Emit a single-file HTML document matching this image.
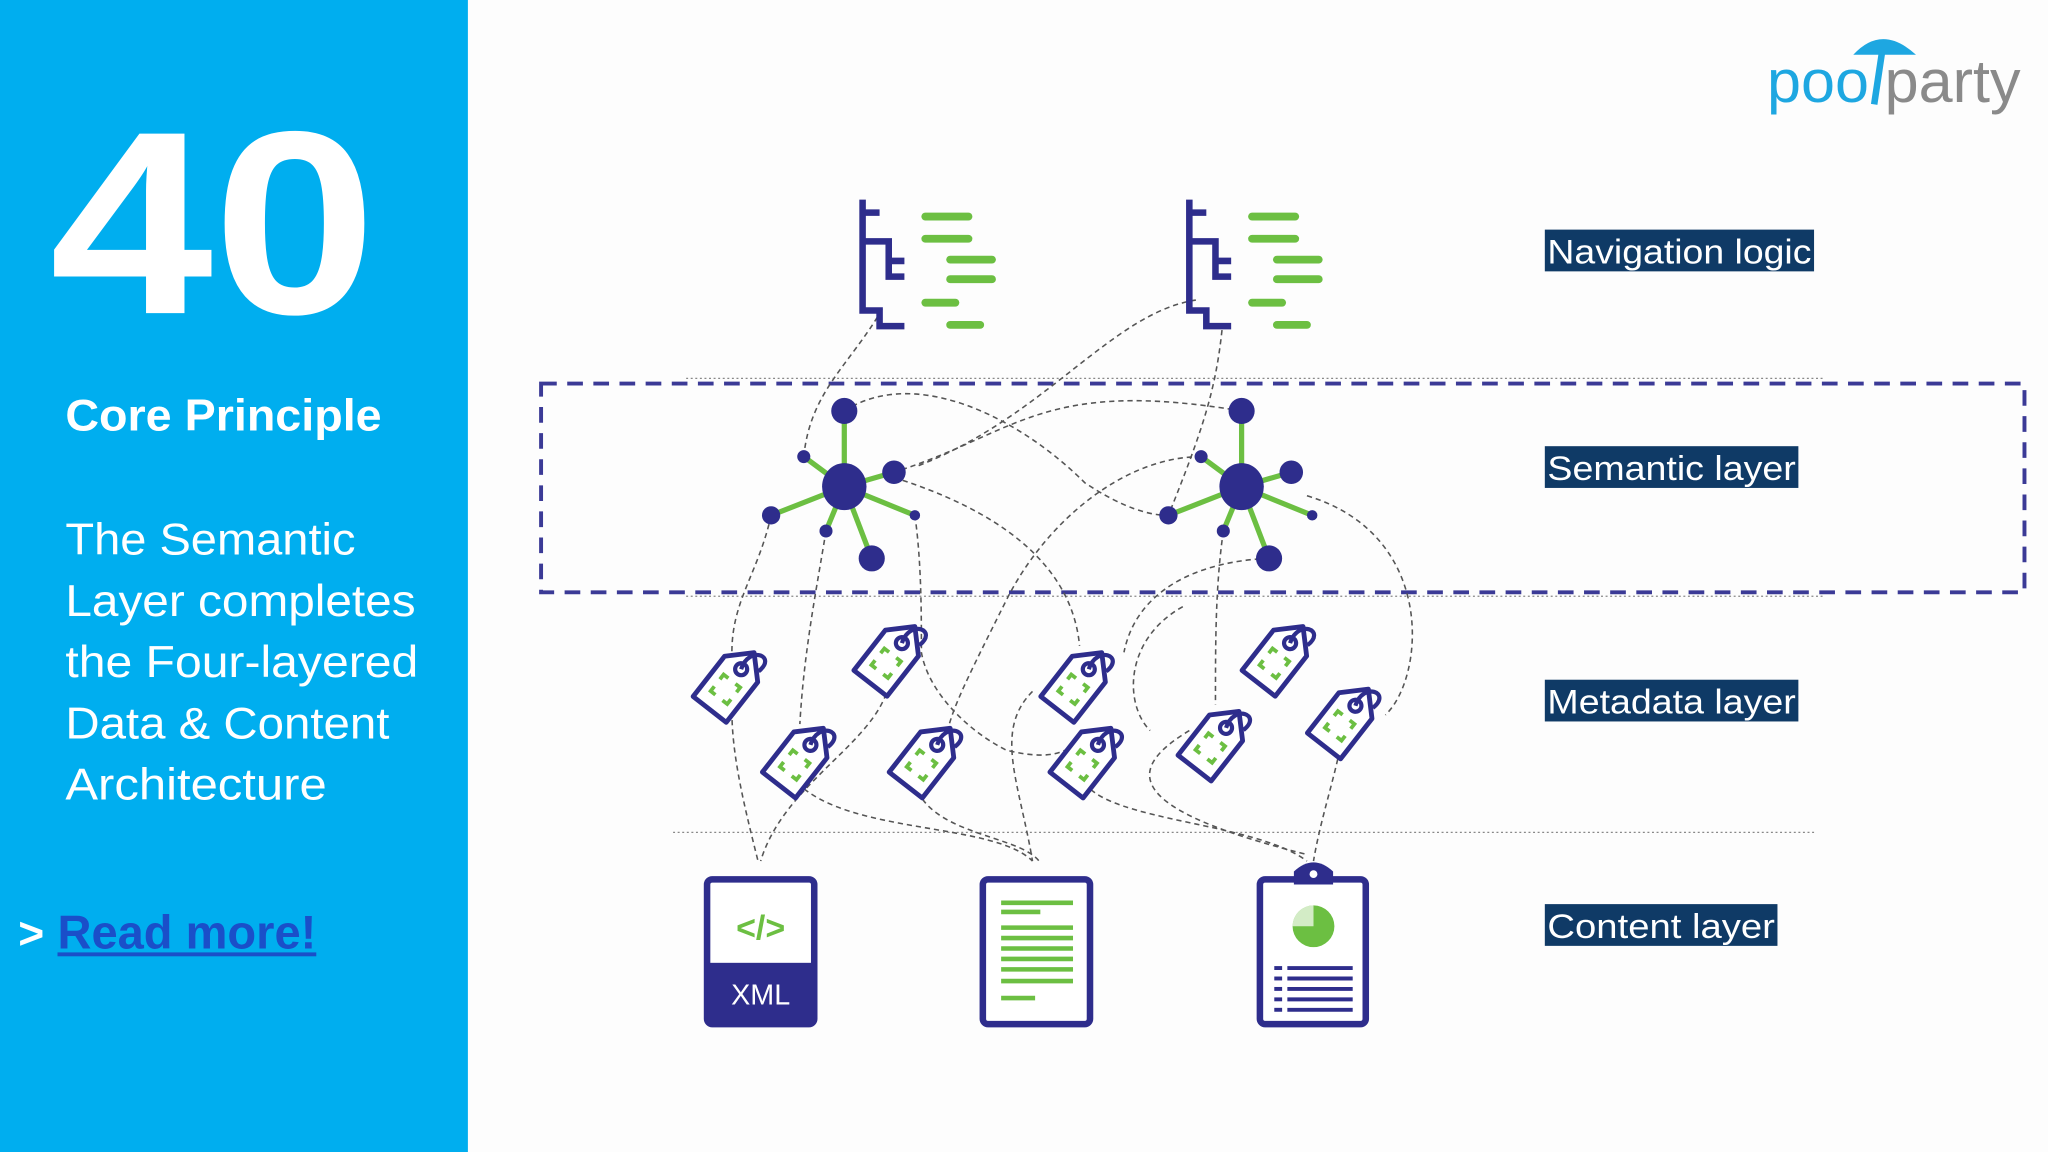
<!DOCTYPE html>
<html><head><meta charset="utf-8"><style>
html,body{margin:0;padding:0;background:#fdfdfd;}
svg{display:block;}
</style></head><body>
<svg width="2048" height="1152" viewBox="0 0 1567 883" preserveAspectRatio="none" xmlns="http://www.w3.org/2000/svg">
<defs>
<g id="tree">
 <path d="M660,153 V238 H673 V250 H692 M660,163 H673 M660,185 H680 V212 H692 M680,200 H692" fill="none" stroke="#2e2d8c" stroke-width="5"/>
 <g stroke="#6cbf42" stroke-width="6" stroke-linecap="round">
  <line x1="708" y1="166" x2="741" y2="166"/><line x1="708" y1="183" x2="741" y2="183"/>
  <line x1="727" y1="199" x2="759" y2="199"/><line x1="727" y1="214" x2="759" y2="214"/>
  <line x1="708" y1="232" x2="731" y2="232"/><line x1="727" y1="249" x2="750" y2="249"/>
 </g>
</g>
<g id="hub">
 <g stroke="#6cbf42" stroke-width="4">
  <line x1="646" y1="373" x2="646" y2="315"/><line x1="646" y1="373" x2="684" y2="362"/>
  <line x1="646" y1="373" x2="615" y2="350"/><line x1="646" y1="373" x2="590" y2="395"/>
  <line x1="646" y1="373" x2="632" y2="407"/><line x1="646" y1="373" x2="667" y2="428"/>
  <line x1="646" y1="373" x2="700" y2="395"/>
 </g>
 <g fill="#2e2d8c">
  <ellipse cx="646" cy="373" rx="17" ry="18"/><circle cx="646" cy="315" r="10"/>
  <circle cx="684" cy="362" r="9"/><circle cx="615" cy="350" r="5"/>
  <circle cx="590" cy="395" r="7"/><circle cx="632" cy="407" r="5"/>
  <circle cx="667" cy="428" r="10"/><circle cx="700" cy="395" r="4"/>
 </g>
</g>
<g id="tag">
 <g transform="rotate(38) scale(1.15)">
  <path d="M-14,-10 L0,-24 L14,-10 V24 H-14 Z" fill="#fff" stroke="#2e2d8c" stroke-width="3.2" stroke-linejoin="round"/>
  <circle cx="0" cy="-10" r="4" fill="none" stroke="#2e2d8c" stroke-width="2.8"/>
  <path d="M0,-10 C-6,-26 14,-32 10,-16" fill="none" stroke="#2e2d8c" stroke-width="2.8"/>
  <path d="M-7,4 V0 H-3 M3,0 H7 V4 M7,10 V14 H3 M-3,14 H-7 V10" fill="none" stroke="#6cbf42" stroke-width="2.5"/>
 </g>
</g>
</defs>

<rect x="0" y="0" width="358" height="883" fill="#00aeef"/>
<text x="38" y="240" font-family="Liberation Sans, sans-serif" font-weight="bold" font-size="200" fill="#fff" textLength="250" lengthAdjust="spacingAndGlyphs">40</text>
<g font-family="Liberation Sans, sans-serif" fill="#fff">
<text x="50" y="330" font-weight="bold" font-size="34" textLength="242" lengthAdjust="spacingAndGlyphs">Core Principle</text>
<text x="50" y="425" font-size="34" textLength="222" lengthAdjust="spacingAndGlyphs">The Semantic</text>
<text x="50" y="472" font-size="34" textLength="268" lengthAdjust="spacingAndGlyphs">Layer completes</text>
<text x="50" y="519" font-size="34" textLength="270" lengthAdjust="spacingAndGlyphs">the Four-layered</text>
<text x="50" y="566" font-size="34" textLength="248" lengthAdjust="spacingAndGlyphs">Data &amp; Content</text>
<text x="50" y="613" font-size="34" textLength="200" lengthAdjust="spacingAndGlyphs">Architecture</text>
<text x="14" y="727" font-weight="bold" font-size="34">&gt;</text>
</g>
<text x="44" y="727" font-family="Liberation Sans, sans-serif" font-weight="bold" font-size="36" fill="#1a4fc9" textLength="198" lengthAdjust="spacingAndGlyphs">Read more!</text>
<rect x="44" y="730" width="198" height="3" fill="#1a4fc9"/>

<!-- logo -->
<path d="M1418,42 Q1440,18 1466,42 Z" fill="#1ea7e1"/>
<line x1="1440" y1="40" x2="1434" y2="80" stroke="#1ea7e1" stroke-width="5"/>
<text x="1352" y="78" font-family="Liberation Sans, sans-serif" font-size="46" fill="#1ea7e1" textLength="78" lengthAdjust="spacingAndGlyphs">poo</text>
<text x="1442" y="78" font-family="Liberation Sans, sans-serif" font-size="46" fill="#8a8a8a" textLength="104" lengthAdjust="spacingAndGlyphs">party</text>

<!-- layer lines -->
<g stroke="#888" stroke-width="1" stroke-dasharray="1.5 2">
<line x1="525" y1="290" x2="1395" y2="290"/><line x1="525" y1="457" x2="1395" y2="457"/>
<line x1="515" y1="638" x2="1390" y2="638"/>
</g>
<rect x="414" y="294" width="1135" height="160" fill="none" stroke="#3b3a96" stroke-width="3" stroke-dasharray="12 8"/>

<!-- connectors -->
<g fill="none" stroke="#555" stroke-width="1.2" stroke-dasharray="4 3">
<path d="M675,237 C650,280 620,300 615,350"/>
<path d="M935,253 C930,300 920,330 894,395"/>
<path d="M915,230 C850,240 800,320 700,358"/>
<path d="M690,360 C780,330 800,290 950,315"/>
<path d="M646,315 C700,280 780,320 830,370 C860,390 880,395 894,395"/>
<path d="M684,366 C760,390 820,430 826,495"/>
<path d="M919,350 C860,350 800,400 770,460 C740,520 730,540 725,560"/>
<path d="M971,428 C920,430 870,450 860,500"/>
<path d="M1000,380 C1100,410 1090,520 1060,548"/>
<path d="M590,395 C580,440 560,460 560,500"/>
<path d="M632,407 C625,450 615,500 612,555"/>
<path d="M700,395 C705,430 705,470 705,500 C710,530 740,560 770,575 C790,580 805,580 815,575"/>
<path d="M936,407 C930,450 930,490 930,540"/>
<path d="M560,545 C560,580 570,620 580,660"/>
<path d="M680,525 C670,570 600,600 582,660"/>
<path d="M610,600 C650,640 760,630 790,660"/>
<path d="M700,600 C710,640 780,640 795,660"/>
<path d="M790,530 C760,560 780,600 790,660"/>
<path d="M830,600 C850,630 960,630 1000,660"/>
<path d="M910,560 C860,590 860,620 1000,655"/>
<path d="M905,465 C860,490 860,540 880,560"/>
<path d="M1025,575 C1020,600 1010,630 1005,660"/>
</g>

<use href="#tree"/>
<use href="#tree" transform="translate(250,0)"/>
<use href="#hub"/>
<use href="#hub" transform="translate(304,0)"/>

<use href="#tag" transform="translate(560,522)"/>
<use href="#tag" transform="translate(683,502)"/>
<use href="#tag" transform="translate(613,580)"/>
<use href="#tag" transform="translate(710,580)"/>
<use href="#tag" transform="translate(826,522)"/>
<use href="#tag" transform="translate(833,580)"/>
<use href="#tag" transform="translate(931,567)"/>
<use href="#tag" transform="translate(980,502)"/>
<use href="#tag" transform="translate(1030,550)"/>

<!-- XML -->
<rect x="541" y="674" width="82" height="111" rx="4" fill="#fff" stroke="#2e2d8c" stroke-width="5"/>
<rect x="541" y="738" width="82" height="47" fill="#2e2d8c"/>
<text x="582" y="770" text-anchor="middle" font-family="Liberation Sans, sans-serif" font-size="22" fill="#fff">XML</text>
<text x="582" y="720" text-anchor="middle" font-family="Liberation Sans, sans-serif" font-weight="bold" font-size="26" fill="#6cbf42">&lt;/&gt;</text>
<!-- doc -->
<rect x="752" y="674" width="82" height="111" rx="4" fill="#fff" stroke="#2e2d8c" stroke-width="5"/>
<g stroke="#6cbf42" stroke-width="3.5">
<line x1="766" y1="692" x2="821" y2="692"/><line x1="766" y1="699" x2="796" y2="699"/>
<line x1="766" y1="711" x2="821" y2="711"/><line x1="766" y1="719" x2="821" y2="719"/>
<line x1="766" y1="727" x2="821" y2="727"/><line x1="766" y1="735" x2="821" y2="735"/>
<line x1="766" y1="743" x2="821" y2="743"/><line x1="766" y1="752" x2="821" y2="752"/>
<line x1="766" y1="765" x2="792" y2="765"/>
</g>
<!-- clipboard -->
<rect x="964" y="674" width="81" height="111" rx="4" fill="#fff" stroke="#2e2d8c" stroke-width="5"/>
<path d="M990,678 V668 Q1005,654 1020,668 V678 Z" fill="#2e2d8c"/>
<circle cx="1005" cy="670" r="3" fill="#fff"/>
<circle cx="1005" cy="710" r="16" fill="#6cbf42"/>
<path d="M1005,710 V694 A16,16 0 0 0 989,710 Z" fill="#fff" opacity="0.7"/>
<g stroke="#2e2d8c" stroke-width="3">
<line x1="975" y1="742" x2="981" y2="742"/><line x1="985" y1="742" x2="1035" y2="742"/>
<line x1="975" y1="750" x2="981" y2="750"/><line x1="985" y1="750" x2="1035" y2="750"/>
<line x1="975" y1="758" x2="981" y2="758"/><line x1="985" y1="758" x2="1035" y2="758"/>
<line x1="975" y1="766" x2="981" y2="766"/><line x1="985" y1="766" x2="1035" y2="766"/>
<line x1="975" y1="774" x2="981" y2="774"/><line x1="985" y1="774" x2="1035" y2="774"/>
</g>

<!-- labels -->
<g font-family="Liberation Sans, sans-serif" font-size="26" fill="#fff">
<rect x="1182" y="176" width="206" height="32" fill="#0f3a66"/>
<text x="1184" y="202" textLength="202" lengthAdjust="spacingAndGlyphs">Navigation logic</text>
<rect x="1182" y="342" width="194" height="32" fill="#0f3a66"/>
<text x="1184" y="368" textLength="190" lengthAdjust="spacingAndGlyphs">Semantic layer</text>
<rect x="1182" y="521" width="194" height="32" fill="#0f3a66"/>
<text x="1184" y="547" textLength="190" lengthAdjust="spacingAndGlyphs">Metadata layer</text>
<rect x="1182" y="693" width="178" height="32" fill="#0f3a66"/>
<text x="1184" y="719" textLength="174" lengthAdjust="spacingAndGlyphs">Content layer</text>
</g>
</svg>
</body></html>
